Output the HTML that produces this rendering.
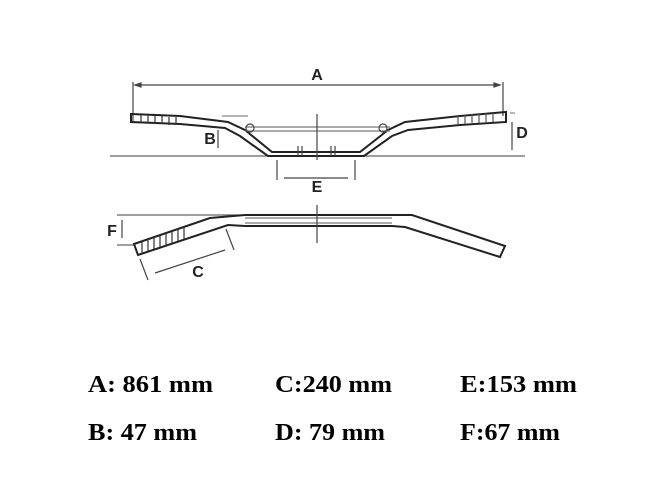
<!DOCTYPE html>
<html><head><style>body{margin:0;background:#fff}svg{display:block}</style></head><body>
<svg width="665" height="500" viewBox="0 0 665 500" xmlns="http://www.w3.org/2000/svg">
<rect width="665" height="500" fill="#fff"/>
<g stroke="#444" fill="none" stroke-width="1.2">
<line x1="133" y1="82" x2="133" y2="122"/>
<line x1="503" y1="82" x2="503" y2="116"/>
<line x1="135" y1="85" x2="500" y2="85"/>
<path d="M135 85 l6 -2 v4z M500 85 l-6 -2 v4z" fill="#444"/>
<line x1="110" y1="156" x2="525" y2="156" stroke="#666"/>
<path d="M131 114 L180 116 L228 122 L245 130 L272 152 L360 152 L388 130 L405 122 L460 116 L506 112 L506 122 L460 125 L408 130 L392 136 L364 156 L268 156 L240 136 L225 128 L180 124 L131 122 Z" stroke="#222" stroke-width="2"/>
<path d="M245 127 L390 127 M245 131 L390 131" stroke="#777"/>
<circle cx="250" cy="128" r="4"/><circle cx="383" cy="128" r="4"/>
<path d="M298 146 v10 M302 146 v10 M331 146 v10 M335 146 v10"/>
<path d="M141 115 v8 M148 115 v8 M155 116 v8 M162 116 v8 M169 117 v8 M176 117 v8" stroke="#333"/>
<path d="M458 115 v9 M465 115 v9 M472 114 v9 M479 114 v9 M486 113 v9 M493 113 v9" stroke="#555"/>
<line x1="222" y1="116" x2="248" y2="116" stroke="#888"/>
<line x1="510" y1="113" x2="515" y2="113" stroke="#888"/>
<line x1="317" y1="114" x2="317" y2="160"/>
<line x1="218" y1="130" x2="218" y2="148"/>
<line x1="512" y1="122" x2="512" y2="150"/>
<line x1="277" y1="160" x2="277" y2="180"/>
<line x1="355" y1="160" x2="355" y2="180"/>
<line x1="284" y1="178" x2="348" y2="178"/>
<line x1="117" y1="215" x2="413" y2="215" stroke="#666"/>
<line x1="117" y1="245" x2="135" y2="245" stroke="#666"/>
<path d="M134 244 L210 218 L245 215 L412 215 L505 246 L500 257 L405 227 L392 226 L245 226 L228 225 L138 255 Z" stroke="#222" stroke-width="2"/>
<path d="M245 218 L392 218 M245 223 L392 223" stroke="#777"/>
<path d="M142 242 v11 M148 240 v11 M154 238 v11 M160 236 v11 M166 234 v11 M172 232 v11 M178 230 v11 M184 228 v11" stroke="#333"/>
<line x1="317" y1="205" x2="317" y2="243"/>
<line x1="122" y1="220" x2="122" y2="238"/>
<line x1="140" y1="259" x2="148" y2="280"/>
<line x1="226" y1="229" x2="234" y2="250"/>
<line x1="155" y1="273" x2="225" y2="250"/>
</g>
<g font-family="Liberation Sans, sans-serif" font-weight="bold" font-size="16" fill="#222" text-anchor="middle">
<text x="317" y="80">A</text>
<text x="210" y="144">B</text>
<text x="522" y="138">D</text>
<text x="317" y="192">E</text>
<text x="112" y="236">F</text>
<text x="198" y="277">C</text>
</g>
<g font-family="Liberation Serif, serif" font-weight="bold" font-size="24" fill="#000">
<text x="88" y="392" textLength="125" lengthAdjust="spacingAndGlyphs">A: 861 mm</text>
<text x="275" y="392" textLength="117" lengthAdjust="spacingAndGlyphs">C:240 mm</text>
<text x="460" y="392" textLength="117" lengthAdjust="spacingAndGlyphs">E:153 mm</text>
<text x="88" y="440" textLength="109" lengthAdjust="spacingAndGlyphs">B: 47 mm</text>
<text x="275" y="440" textLength="110" lengthAdjust="spacingAndGlyphs">D: 79 mm</text>
<text x="460" y="440" textLength="100" lengthAdjust="spacingAndGlyphs">F:67 mm</text>
</g>
</svg>
</body></html>
